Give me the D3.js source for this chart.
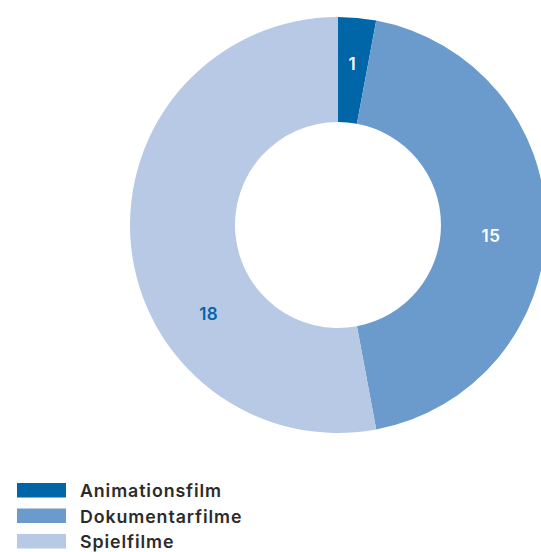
<!DOCTYPE html>
<html><head><meta charset="utf-8">
<script src="https://cdn.jsdelivr.net/npm/d3@7"></script>
<style>
html,body{margin:0;padding:0;background:#fff;}
svg{display:block;font-family:Inter,"Noto Sans",sans-serif;}
</style></head>
<body>
<svg id="c" width="541" height="552"></svg>
<script>
const categories = ["Animationsfilm", "Dokumentarfilme", "Spielfilme"];
const values = [1, 15, 18];
const colors = ["#0066a8", "#6b9bcc", "#b7c9e5"];
const labelColors = ["#ffffff", "#ffffff", "#0066a8"];
// label nudges relative to the arc centroid (px)
const labelNudge = [[0, -7], [-2, 11], [25, 75]];

const svg = d3.select("#c");
const cx = 338, cy = 225, rOuter = 208, rInner = 103;

const pie = d3.pie().sort(null).value(d => d)(values);
const arc = d3.arc().innerRadius(rInner).outerRadius(rOuter);
const labelArc = d3.arc().innerRadius(155).outerRadius(155);

const g = svg.append("g").attr("transform", `translate(${cx},${cy})`);
g.selectAll("path").data(pie).join("path")
  .attr("d", arc)
  .attr("fill", (d, i) => colors[i]);

g.selectAll("text").data(pie).join("text")
  .attr("x", (d, i) => labelArc.centroid(d)[0] + labelNudge[i][0])
  .attr("y", (d, i) => labelArc.centroid(d)[1] + labelNudge[i][1])
  .attr("text-anchor", "middle")
  .attr("dominant-baseline", "central")
  .attr("font-size", 17)
  .attr("font-weight", 600)
  .attr("letter-spacing", 0.5)
  .attr("fill", (d, i) => labelColors[i])
  .text(d => d.data);

const legend = svg.append("g");
const rows = legend.selectAll("g").data(categories).join("g")
  .attr("transform", (d, i) => `translate(17,${483 + i * 25.5})`);
rows.append("rect").attr("width", 49).attr("height", 14.5)
  .attr("fill", (d, i) => colors[i]);
rows.append("text").attr("x", 63).attr("y", 14)
  .attr("font-size", 17.8).attr("font-weight", 600).attr("fill", "#2b2b2b")
  .attr("letter-spacing", 0.9)
  .text(d => d);
</script>
</body></html>
